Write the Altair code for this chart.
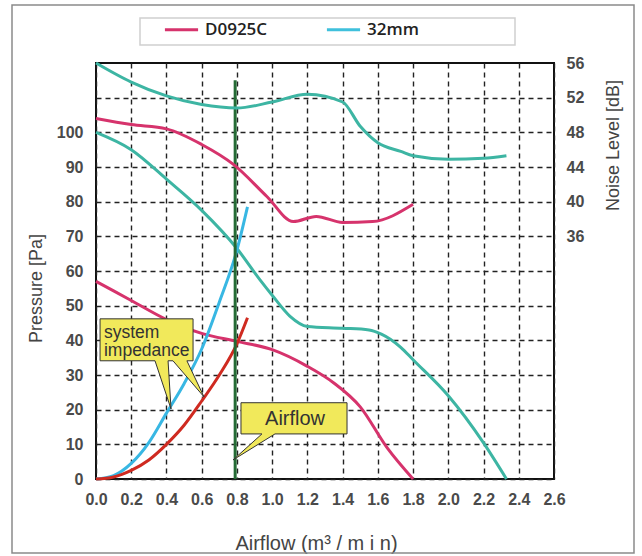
import altair as alt
import pandas as pd

# ---------------- data ----------------
x_ticks = [0.0, 0.2, 0.4, 0.6, 0.8, 1.0, 1.2, 1.4, 1.6, 1.8, 2.0, 2.2, 2.4, 2.6]
p_ticks = [0, 10, 20, 30, 40, 50, 60, 70, 80, 90, 100, 110]
n_ticks = [36, 40, 44, 48, 52, 56]

# D0925C pressure curve
d_pq_flow = [0.0, 0.2, 0.4, 0.6, 0.8, 1.0, 1.2, 1.35, 1.5, 1.65, 1.8]
d_pq_pres = [57, 51.5, 46, 42, 39.7, 37.3, 32.5, 27.7, 20.8, 9.2, 0]

# 32mm pressure curve
m_pq_flow = [0.0, 0.2, 0.4, 0.6, 0.8, 0.93, 1.0, 1.1, 1.2, 1.4, 1.55, 1.62, 1.73, 1.8, 2.0, 2.2, 2.33]
m_pq_pres = [100, 95, 86.5, 77.5, 66.5, 57.5, 53, 47, 44, 43.5, 43, 41.8, 38, 34.4, 24, 10.4, 0]

# D0925C noise curve (dB)
d_nz_flow = [0.0, 0.2, 0.4, 0.6, 0.78, 0.97, 1.12, 1.25, 1.4, 1.57, 1.8]
d_nz_db = [49.6, 48.9, 48.4, 46.6, 44.3, 40.6, 37.7, 38.3, 37.6, 37.7, 39.7]

# 32mm noise curve (dB)
m_nz_flow = [0.0, 0.2, 0.4, 0.6, 0.8, 1.0, 1.2, 1.4, 1.5, 1.6, 1.73, 1.8, 2.0, 2.2, 2.33]
m_nz_db = [56, 53.8, 52.2, 51.2, 50.8, 51.5, 52.4, 51.5, 48.7, 46.8, 45.8, 45.3, 44.9, 45.0, 45.3]

# system impedance curves
sr_flow = [0.0, 0.1, 0.2, 0.3, 0.4, 0.5, 0.6, 0.7, 0.8, 0.86]
sr_pres = [0, 0.6, 2.5, 5.5, 10, 15.5, 22.5, 30, 39, 46.5]
sb_flow = [0.0, 0.1, 0.2, 0.3, 0.4, 0.5, 0.6, 0.7, 0.8, 0.86]
sb_pres = [0, 1, 4.5, 10.5, 19, 27.5, 37.5, 51, 66, 78.5]

# operating-point airflow line
op_flow = [0.79]
op_low = [0]
op_high = [115]

# callouts (airflow, pressure outline)
si_flow = [0.023, 0.551, 0.551, 0.516, 0.613, 0.437, 0.409, 0.426, 0.335, 0.023, 0.023]
si_pres = [46.2, 46.2, 34.1, 34.1, 23.7, 34.1, 34.1, 20.2, 34.1, 34.1, 46.2]
af_flow = [0.823, 1.425, 1.425, 1.016, 0.778, 0.942, 0.823, 0.823]
af_pres = [22.0, 22.0, 13.0, 13.0, 5.5, 13.0, 13.0, 22.0]

label_text = ["system", "impedance", "Airflow"]
label_flow = [0.045, 0.045, 1.13]
label_pres = [40.8, 35.5, 15.6]
label_align = ["left", "left", "center"]

series_names = ["D0925C", "32mm"]

# ---------------- styling ----------------
PINK = "#d6336c"
TEAL = "#3db5a3"
CYAN = "#3fc0dc"
BLUE = "#38b7e3"
RED = "#cf2a20"
GREEN = "#256b35"
YELLOW = "#f1e95b"
TXT = "#444444"
NUM_FONT = "Liberation Sans, Arial, sans-serif"
FONT = "Liberation Sans, Arial, sans-serif"

X_SCALE = alt.Scale(domain=[0, 2.6], nice=False, zero=False)
P_SCALE = alt.Scale(domain=[0, 120], nice=False)
N_SCALE = alt.Scale(domain=[8, 56], nice=False, zero=False)

x_axis = alt.Axis(values=x_ticks, format=".1f", title="Airflow (m³ / m i n)",
                  grid=True, labelPadding=12, labelOverlap=False, labelFlush=False,
                  titleX=220, titleY=64, titleBaseline="middle", titleAlign="center",
                  titleFontSize=20)
p_axis = alt.Axis(values=p_ticks, orient="left", title="Pressure [Pa]",
                  labelExpr="datum.value > 100 ? '' : datum.label",
                  grid=True, labelPadding=13, labelOverlap=False, labelFlush=False,
                  titleX=-60, titleY=225, titleBaseline="middle", titleAngle=270)
n_axis = alt.Axis(values=n_ticks, orient="right", title="Noise Level [dB]",
                  grid=False, labelPadding=12, labelOverlap=False, labelFlush=False,
                  titleX=59, titleY=82, titleBaseline="middle", titleAngle=270)


def xenc(field="airflow"):
    return alt.X(f"{field}:Q", scale=X_SCALE, axis=x_axis)


def penc(field="v"):
    return alt.Y(f"{field}:Q", scale=P_SCALE, axis=p_axis)


def nenc(field="v"):
    return alt.Y(f"{field}:Q", scale=N_SCALE, axis=n_axis)


def line(flows, vals, color, yfun, width=3):
    df = pd.DataFrame({"airflow": flows, "v": vals})
    return alt.Chart(df).mark_line(color=color, strokeWidth=width,
                                   interpolate="monotone").encode(x=xenc(), y=yfun())


def callout(flows, vals):
    df = pd.DataFrame({"airflow": flows, "v": vals, "i": list(range(len(flows)))})
    return alt.Chart(df).mark_line(fill=YELLOW, stroke="#333333", strokeWidth=1,
                                   strokeJoin="miter").encode(
        x=xenc(), y=penc(), order="i:Q")


# ---------------- layers ----------------
frame = alt.Chart(pd.DataFrame({"k": [0]})).mark_rect(
    fill=None, stroke="#8a8a8a", strokeWidth=1.5).encode(
    x=alt.value(-84), x2=alt.value(538), y=alt.value(-58), y2=alt.value(490))

legend_frame = alt.Chart(pd.DataFrame({"k": [0]})).mark_rect(
    fill=None, stroke="#d0d0d0", strokeWidth=1.5).encode(
    x=alt.value(44), x2=alt.value(419), y=alt.value(-45), y2=alt.value(-18))

legend_layer = alt.Chart(pd.DataFrame({"airflow": pd.Series([], dtype=float),
                                       "v": pd.Series([], dtype=float),
                                       "series": pd.Series([], dtype=str)})).mark_line().encode(
    x=xenc(), y=penc(),
    color=alt.Color("series:N", scale=alt.Scale(domain=series_names, range=[PINK, CYAN]),
                    legend=alt.Legend(title=None, orient="none", legendX=67, legendY=-52,
                                      direction="horizontal", symbolType="stroke",
                                      symbolSize=1100, symbolStrokeWidth=3,
                                      labelFont="Open Sans", labelFontSize=17,
                                      labelFontWeight=600, labelColor="#222222",
                                      labelOffset=5, columnPadding=52, padding=0)))

op_df = pd.DataFrame({"airflow": op_flow, "lo": op_low, "hi": op_high})
op_line = alt.Chart(op_df).mark_rule(color=GREEN, strokeWidth=3).encode(
    x=xenc(), y=penc("lo"), y2="hi:Q")

labels_df = pd.DataFrame({"airflow": label_flow, "v": label_pres, "t": label_text,
                          "a": label_align})
labels_left = alt.Chart(labels_df[labels_df.a == "left"]).mark_text(
    align="left", baseline="alphabetic", font=FONT, fontSize=17.5, color="#333333").encode(
    x=xenc(), y=penc(), text="t:N")
labels_center = alt.Chart(labels_df[labels_df.a == "center"]).mark_text(
    align="center", baseline="alphabetic", font=FONT, fontSize=20, color="#333333").encode(
    x=xenc(), y=penc(), text="t:N")

left = alt.layer(
    frame,
    legend_frame,
    legend_layer,
    line(d_pq_flow, d_pq_pres, PINK, penc),
    line(m_pq_flow, m_pq_pres, TEAL, penc),
    line(sb_flow, sb_pres, BLUE, penc),
    line(sr_flow, sr_pres, RED, penc),
    op_line,
    callout(si_flow, si_pres),
    callout(af_flow, af_pres),
    labels_left,
    labels_center,
)

right = alt.layer(
    line(d_nz_flow, d_nz_db, PINK, nenc),
    line(m_nz_flow, m_nz_db, TEAL, nenc),
)

chart = alt.layer(left, right).resolve_scale(y="independent").properties(
    width=458, height=416,
    autosize=alt.AutoSizeParams(type="none"),
    padding={"left": 96, "top": 63, "right": 88, "bottom": 77},
    background="white",
).configure_view(
    stroke="#111111", strokeWidth=2
).configure_axis(
    domain=False, ticks=False,
    labelFont=NUM_FONT, labelFontSize=16, labelFontWeight="bold", labelColor="#4a4a4a",
    titleFont=FONT, titleFontSize=18, titleFontWeight="normal", titleColor=TXT,
    gridColor="#222222", gridDash=[5, 4], gridWidth=1.4, gridOpacity=1,
)

chart.save("out.html", embed_options={"renderer": "svg", "actions": False})
